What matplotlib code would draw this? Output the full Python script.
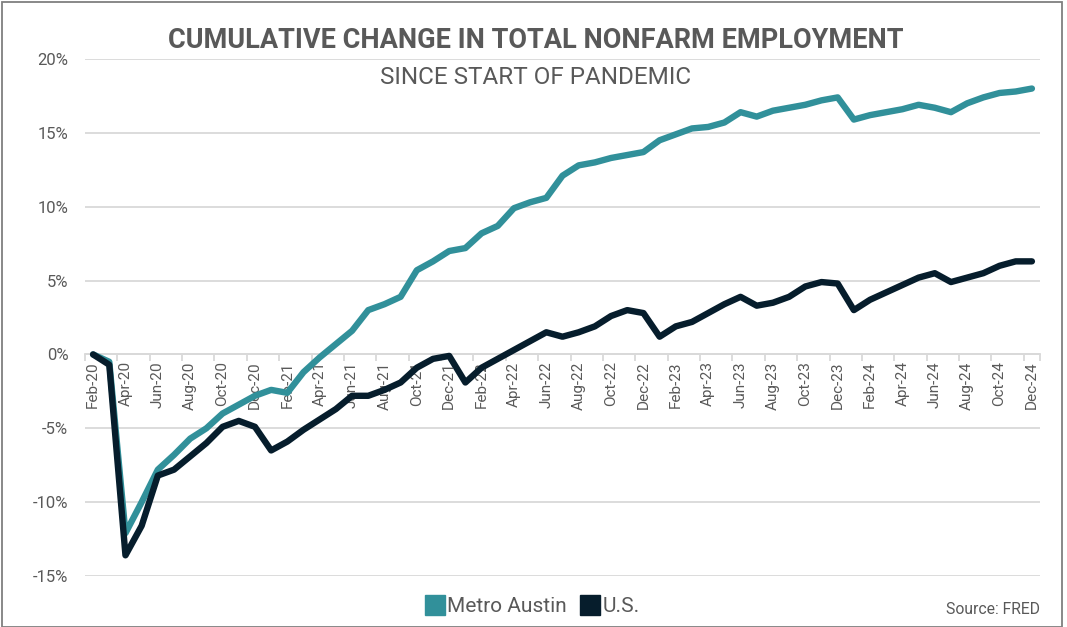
import matplotlib
matplotlib.use("Agg")
import matplotlib.pyplot as plt
from matplotlib.patches import Rectangle
from matplotlib.lines import Line2D
from matplotlib.ticker import FixedLocator, FuncFormatter

plt.rcParams['font.family'] = ['Roboto', 'DejaVu Sans']

months = ["Jan", "Feb", "Mar", "Apr", "May", "Jun", "Jul", "Aug", "Sep", "Oct", "Nov", "Dec"]
dates = [f"{months[m]}-{str(y)[2:]}" for y in range(2020, 2025) for m in range(12)][1:]

austin = [0.0, -0.5, -12.1, -10.0, -7.8, -6.8, -5.7, -5.0, -4.0, -3.4, -2.8, -2.4,
          -2.6, -1.2, -0.2, 0.7, 1.6, 3.0, 3.4, 3.9, 5.7, 6.3, 7.0, 7.2,
          8.2, 8.7, 9.9, 10.3, 10.6, 12.1, 12.8, 13.0, 13.3, 13.5, 13.7, 14.5,
          14.9, 15.3, 15.4, 15.7, 16.4, 16.1, 16.5, 16.7, 16.9, 17.2, 17.4, 15.9,
          16.2, 16.4, 16.6, 16.9, 16.7, 16.4, 17.0, 17.4, 17.7, 17.8, 18.0]
us = [0.0, -0.7, -13.6, -11.6, -8.2, -7.8, -6.9, -6.0, -4.9, -4.5, -4.9, -6.5,
      -5.9, -5.1, -4.4, -3.7, -2.8, -2.8, -2.4, -1.9, -0.9, -0.3, -0.1, -1.9,
      -0.9, -0.3, 0.3, 0.9, 1.5, 1.2, 1.5, 1.9, 2.6, 3.0, 2.8, 1.2,
      1.9, 2.2, 2.8, 3.4, 3.9, 3.3, 3.5, 3.9, 4.6, 4.9, 4.8, 3.0,
      3.7, 4.2, 4.7, 5.2, 5.5, 4.9, 5.2, 5.5, 6.0, 6.3, 6.3]
series_names = ["Metro Austin", "U.S."]
colors = ["#31909A", "#061D2C"]
yticks = [-15, -10, -5, 0, 5, 10, 15, 20]

W, H = 1067, 627
fig = plt.figure(figsize=(W / 100, H / 100), dpi=100)
ax = fig.add_axes([85 / W, 1 - 576 / H, (1040 - 85) / W, (576 - 59) / H])

x = list(range(len(dates)))
ax.plot(x, austin, color=colors[0], lw=4.6, solid_joinstyle='round', solid_capstyle='round', zorder=3)
ax.plot(x, us, color=colors[1], lw=4.6, solid_joinstyle='round', solid_capstyle='round', zorder=4)

ax.set_xlim(-0.5, len(dates) - 0.5)
ax.set_ylim(-15, 20)
ax.set_yticks(yticks)
ax.yaxis.set_major_formatter(FuncFormatter(lambda v, p: f"{int(v)}%"))
ax.grid(axis='y', color='#D9D9D9', lw=1.3)
ax.set_axisbelow(True)

for s in ['top', 'right', 'left']:
    ax.spines[s].set_visible(False)
ax.spines['bottom'].set_position(('data', 0))
ax.spines['bottom'].set_color('#D9D9D9')
ax.spines['bottom'].set_linewidth(1.3)

ax.xaxis.set_major_locator(FixedLocator(x[::2]))
ax.set_xticklabels(dates[::2], rotation=90, fontsize=11, color='#595959')
ax.xaxis.set_minor_locator(FixedLocator([i - 0.5 for i in x[::2]] + [len(dates) - 0.5]))
ax.tick_params(axis='x', which='major', length=0, pad=5)
ax.tick_params(axis='x', which='minor', length=5, color='#D9D9D9', width=1.3)
ax.tick_params(axis='y', length=0, labelsize=12, labelcolor='#595959', pad=12)

fig.text(536 / W, 1 - 41 / H, "CUMULATIVE CHANGE IN TOTAL NONFARM EMPLOYMENT",
         ha='center', va='center', fontsize=19.5, fontweight='bold', color='#595959')
fig.text(536 / W, 1 - 78 / H, "SINCE START OF PANDEMIC",
         ha='center', va='center', fontsize=17.5, color='#595959')

handles = [Line2D([], [], marker='s', ls='none', color=c, markersize=14) for c in colors]
fig.legend(handles, series_names, loc='center', bbox_to_anchor=(532 / W, 1 - 607 / H),
           ncol=2, frameon=False, fontsize=15, labelcolor='#595959',
           handletextpad=0.1, columnspacing=0.6, handlelength=1.0)
fig.text(1040 / W, 1 - 609 / H, "Source: FRED", ha='right', va='center',
         fontsize=11.3, color='#595959')

fig.patches.append(Rectangle((2 / W, 0), (1062 - 2) / W, 1 - 2 / H, transform=fig.transFigure,
                             fill=False, edgecolor='#7F7F7F', lw=1.3))

fig.savefig("out.png", dpi=100)
